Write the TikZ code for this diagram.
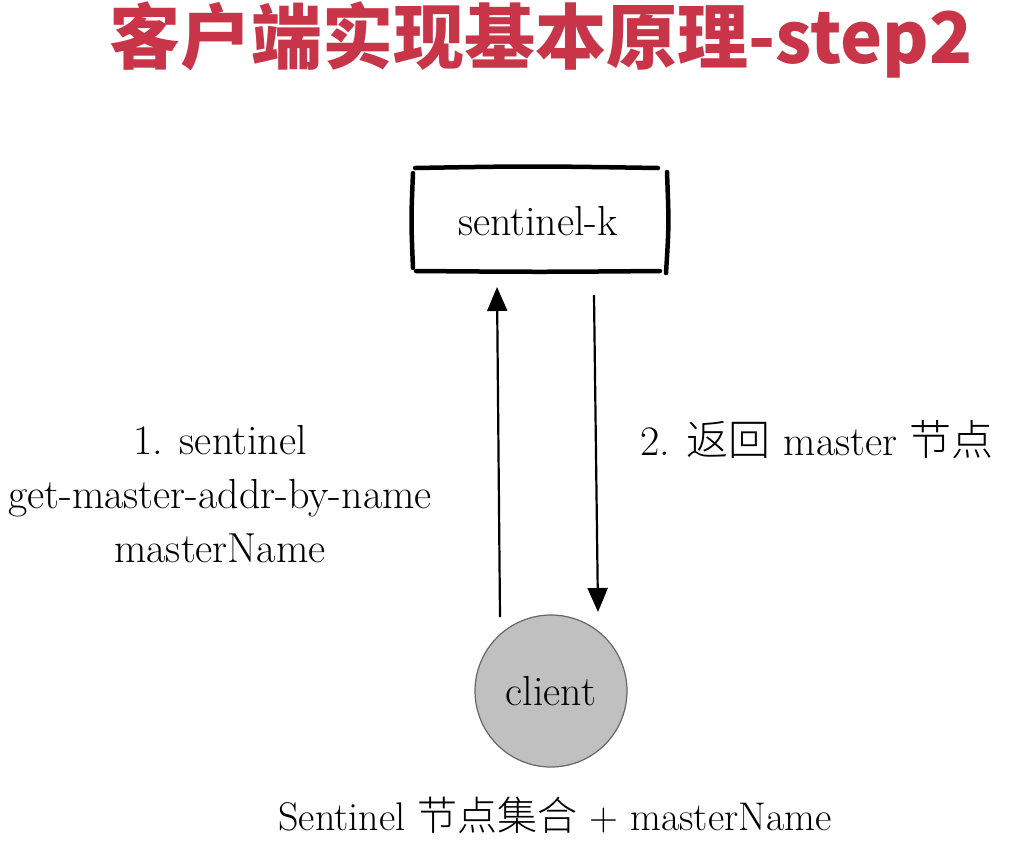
\documentclass[tikz,border=0pt]{standalone}
\usepackage{fontspec}
\newfontfamily\cjk{Noto Sans CJK SC}
\newfontfamily\cjklight{Noto Sans CJK SC Light}
\usetikzlibrary{arrows.meta}
\usetikzlibrary{positioning}
\definecolor{titlered}{RGB}{200,52,72}
\definecolor{clientgray}{RGB}{192,192,192}
\tikzset{
  sketch/.style={line width=4.5pt,line cap=round},
  msg/.style={line width=2.2pt,-{Triangle[length=24pt,width=20pt]}},
  lbl/.style={font=\fontsize{42}{54}\selectfont,align=center,inner sep=0pt}
}

\begin{document}
\begin{tikzpicture}[x=1pt,y=-1pt,line join=round]
\useasboundingbox (0,0) rectangle (1012,844);
% title
\node[font=\cjk\bfseries\fontsize{71}{72}\selectfont,text=titlered,inner sep=0pt] (title) at (541,40) {客户端实现基本原理-step2};
% sentinel box, hand drawn
\draw[sketch] (415,168) .. controls (530,166) .. (658,168);
\draw[sketch] (416,271) .. controls (540,272) .. (660,271);
\draw[sketch] (413,173) .. controls (411,220) .. (413,268);
\draw[sketch] (667,172) .. controls (669,225) .. (666,273);
\node[lbl] (sentinel) at (538,221) {sentinel-k};
% client
\node[circle,draw=gray!80!black,line width=1.2pt,fill=clientgray,minimum size=152pt,inner sep=0pt,font=\fontsize{42}{44}\selectfont] (client) at (551,691) {client};
% messages
\coordinate (reqtail) at (500,617);
\coordinate (reqhead) at (497,287);
\coordinate (resptail) at (594,295);
\coordinate (resphead) at (598,612);
\draw[msg] (reqtail) -- (reqhead);
\draw[msg] (resptail) -- (resphead);
\node[lbl] (req) at (220,494) {1. sentinel\\get-master-addr-by-name\\masterName};
\node[lbl,anchor=west] (resp) at (640,440) {2. {\cjklight 返回} master {\cjklight 节点}};
\node[lbl,font=\fontsize{40}{48}\selectfont] (input) at (555,815) {Sentinel {\cjklight 节点集合} + masterName};
\end{tikzpicture}
\end{document}
